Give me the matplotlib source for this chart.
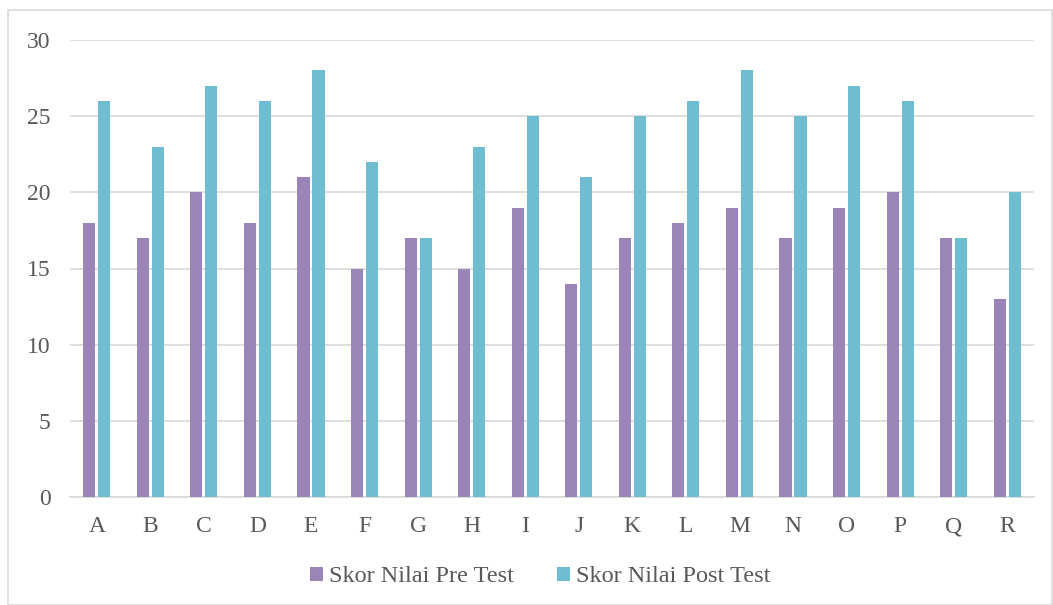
import matplotlib.pyplot as plt
from matplotlib.patches import Rectangle
import numpy as np

names = list("ABCDEFGHIJKLMNOPQR")
pre_test = [18, 17, 20, 18, 21, 15, 17, 15, 19, 14, 17, 18, 19, 17, 19, 20, 17, 13]
post_test = [26, 23, 27, 26, 28, 22, 17, 23, 25, 21, 25, 26, 28, 25, 27, 26, 17, 20]

plt.rcParams['font.family'] = ['Liberation Serif', 'DejaVu Serif']

fig = plt.figure(figsize=(10.53, 6.05), dpi=100)
ax = fig.add_axes([70/1053, 1-497/605, (1034-70)/1053, (497-40)/605])

x = np.arange(len(names))
w = 0.225
ax.bar(x - 0.14, pre_test, w, color='#9b85b8', label='Skor Nilai Pre Test', zorder=3)
ax.bar(x + 0.14, post_test, w, color='#6fbdd1', label='Skor Nilai Post Test', zorder=3)

ax.set_xlim(-0.5, len(names) - 0.5)
ax.set_ylim(0, 30)
ax.set_yticks(range(0, 31, 5))
ax.set_xticks(x)
ax.set_xticklabels(names)
ax.grid(axis='y', color='#d9d9d9', linewidth=1.2, zorder=0)
for s in ['top', 'right', 'left']:
    ax.spines[s].set_visible(False)
ax.spines['bottom'].set_color('#d9d9d9')
ax.spines['bottom'].set_linewidth(1.2)
ax.tick_params(length=0, labelsize=17, colors='#595959')
ax.tick_params(axis='x', pad=14)
ax.tick_params(axis='y', pad=14)

fig.legend(loc='center', bbox_to_anchor=(540/1053, 1-577/605), ncol=2, frameon=False,
           fontsize=17.5, labelcolor='#595959', handlelength=0.55, handleheight=0.55,
           handletextpad=0.25, columnspacing=1.75)

fig.patches.append(Rectangle((8/1053, 0), 1-9/1053, 1-10/605, transform=fig.transFigure,
                             fill=False, edgecolor='#d9d9d9', linewidth=1.2))

fig.savefig('out.png', dpi=100)
